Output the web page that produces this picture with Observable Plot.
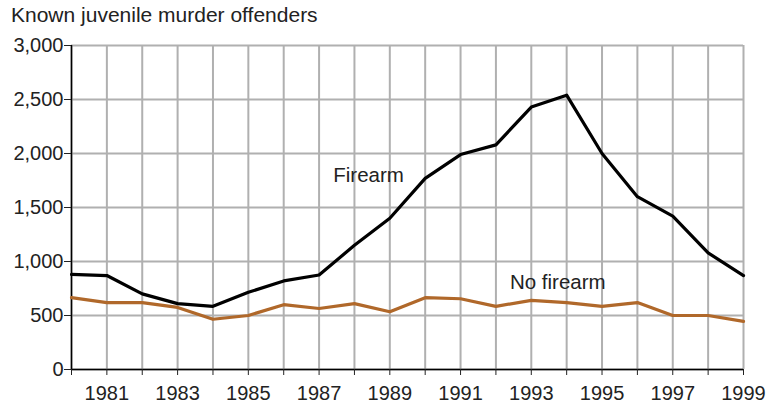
<!DOCTYPE html>
<html>
<head>
<meta charset="utf-8">
<script src="https://cdn.jsdelivr.net/npm/d3@7"></script>
<script src="https://cdn.jsdelivr.net/npm/@observablehq/plot@0.6"></script>
<style>
  html, body { margin: 0; padding: 0; background: #fff; }
  #title { font-family: "Liberation Sans", Arial, sans-serif; font-size: 21px; line-height: 30px; height: 30px; padding-left: 11px; color: #222; white-space: nowrap; }
  #chart svg { display: block; }
</style>
</head>
<body>
<div id="title">Known juvenile murder offenders</div>
<div id="chart"></div>
<script>
const years = [1980,1981,1982,1983,1984,1985,1986,1987,1988,1989,1990,1991,1992,1993,1994,1995,1996,1997,1998,1999];
const firearm = [880,870,700,610,585,715,820,875,1150,1400,1770,1990,2080,2430,2540,2000,1600,1420,1080,870];
const noFirearm = [665,620,620,575,465,500,600,565,610,535,665,655,585,640,620,585,620,500,500,445];
const yTicks = [0,500,1000,1500,2000,2500,3000];
const seriesLabels = [
  {label: "Firearm", year: 1988.4, value: 1800},
  {label: "No firearm", year: 1993.75, value: 806}
];

const data = [];
years.forEach((y, i) => {
  data.push({year: y, value: firearm[i], series: "Firearm"});
  data.push({year: y, value: noFirearm[i], series: "No firearm"});
});

const colors = {"Firearm": "#000000", "No firearm": "#b0682a"};

const chart = Plot.plot({
  width: 778,
  height: 374,
  marginLeft: 71,
  marginRight: 35,
  marginTop: 15,
  marginBottom: 35,
  style: {fontFamily: "Liberation Sans, Arial, sans-serif", fontSize: "20px", color: "#222", background: "#fff"},
  x: {domain: [1980, 1999]},
  y: {domain: [0, 3000]},
  marks: [
    Plot.gridX(years, {stroke: "#b0b0b0", strokeOpacity: 1, strokeWidth: 2}),
    Plot.gridY(yTicks, {stroke: "#b0b0b0", strokeOpacity: 1, strokeWidth: 2}),
    Plot.ruleX([years[0]], {stroke: "#000", strokeWidth: 1.5}),
    Plot.ruleY([0], {stroke: "#000", strokeWidth: 1.5}),
    Plot.line(data, {x: "year", y: "value", z: "series", stroke: d => colors[d.series], strokeWidth: 3.2}),
    Plot.text(seriesLabels, {x: "year", y: "value", text: "label", fontSize: 20.5, fill: "#222"}),
    Plot.axisY({ticks: yTicks, tickFormat: d3.format(","), tickSize: 7, tickPadding: 1, label: null}),
    Plot.axisX({ticks: years, tickFormat: d => d % 2 ? String(d) : "", tickSize: 6, tickPadding: 10, label: null})
  ]
});
document.getElementById("chart").appendChild(chart);
</script>
</body>
</html>
